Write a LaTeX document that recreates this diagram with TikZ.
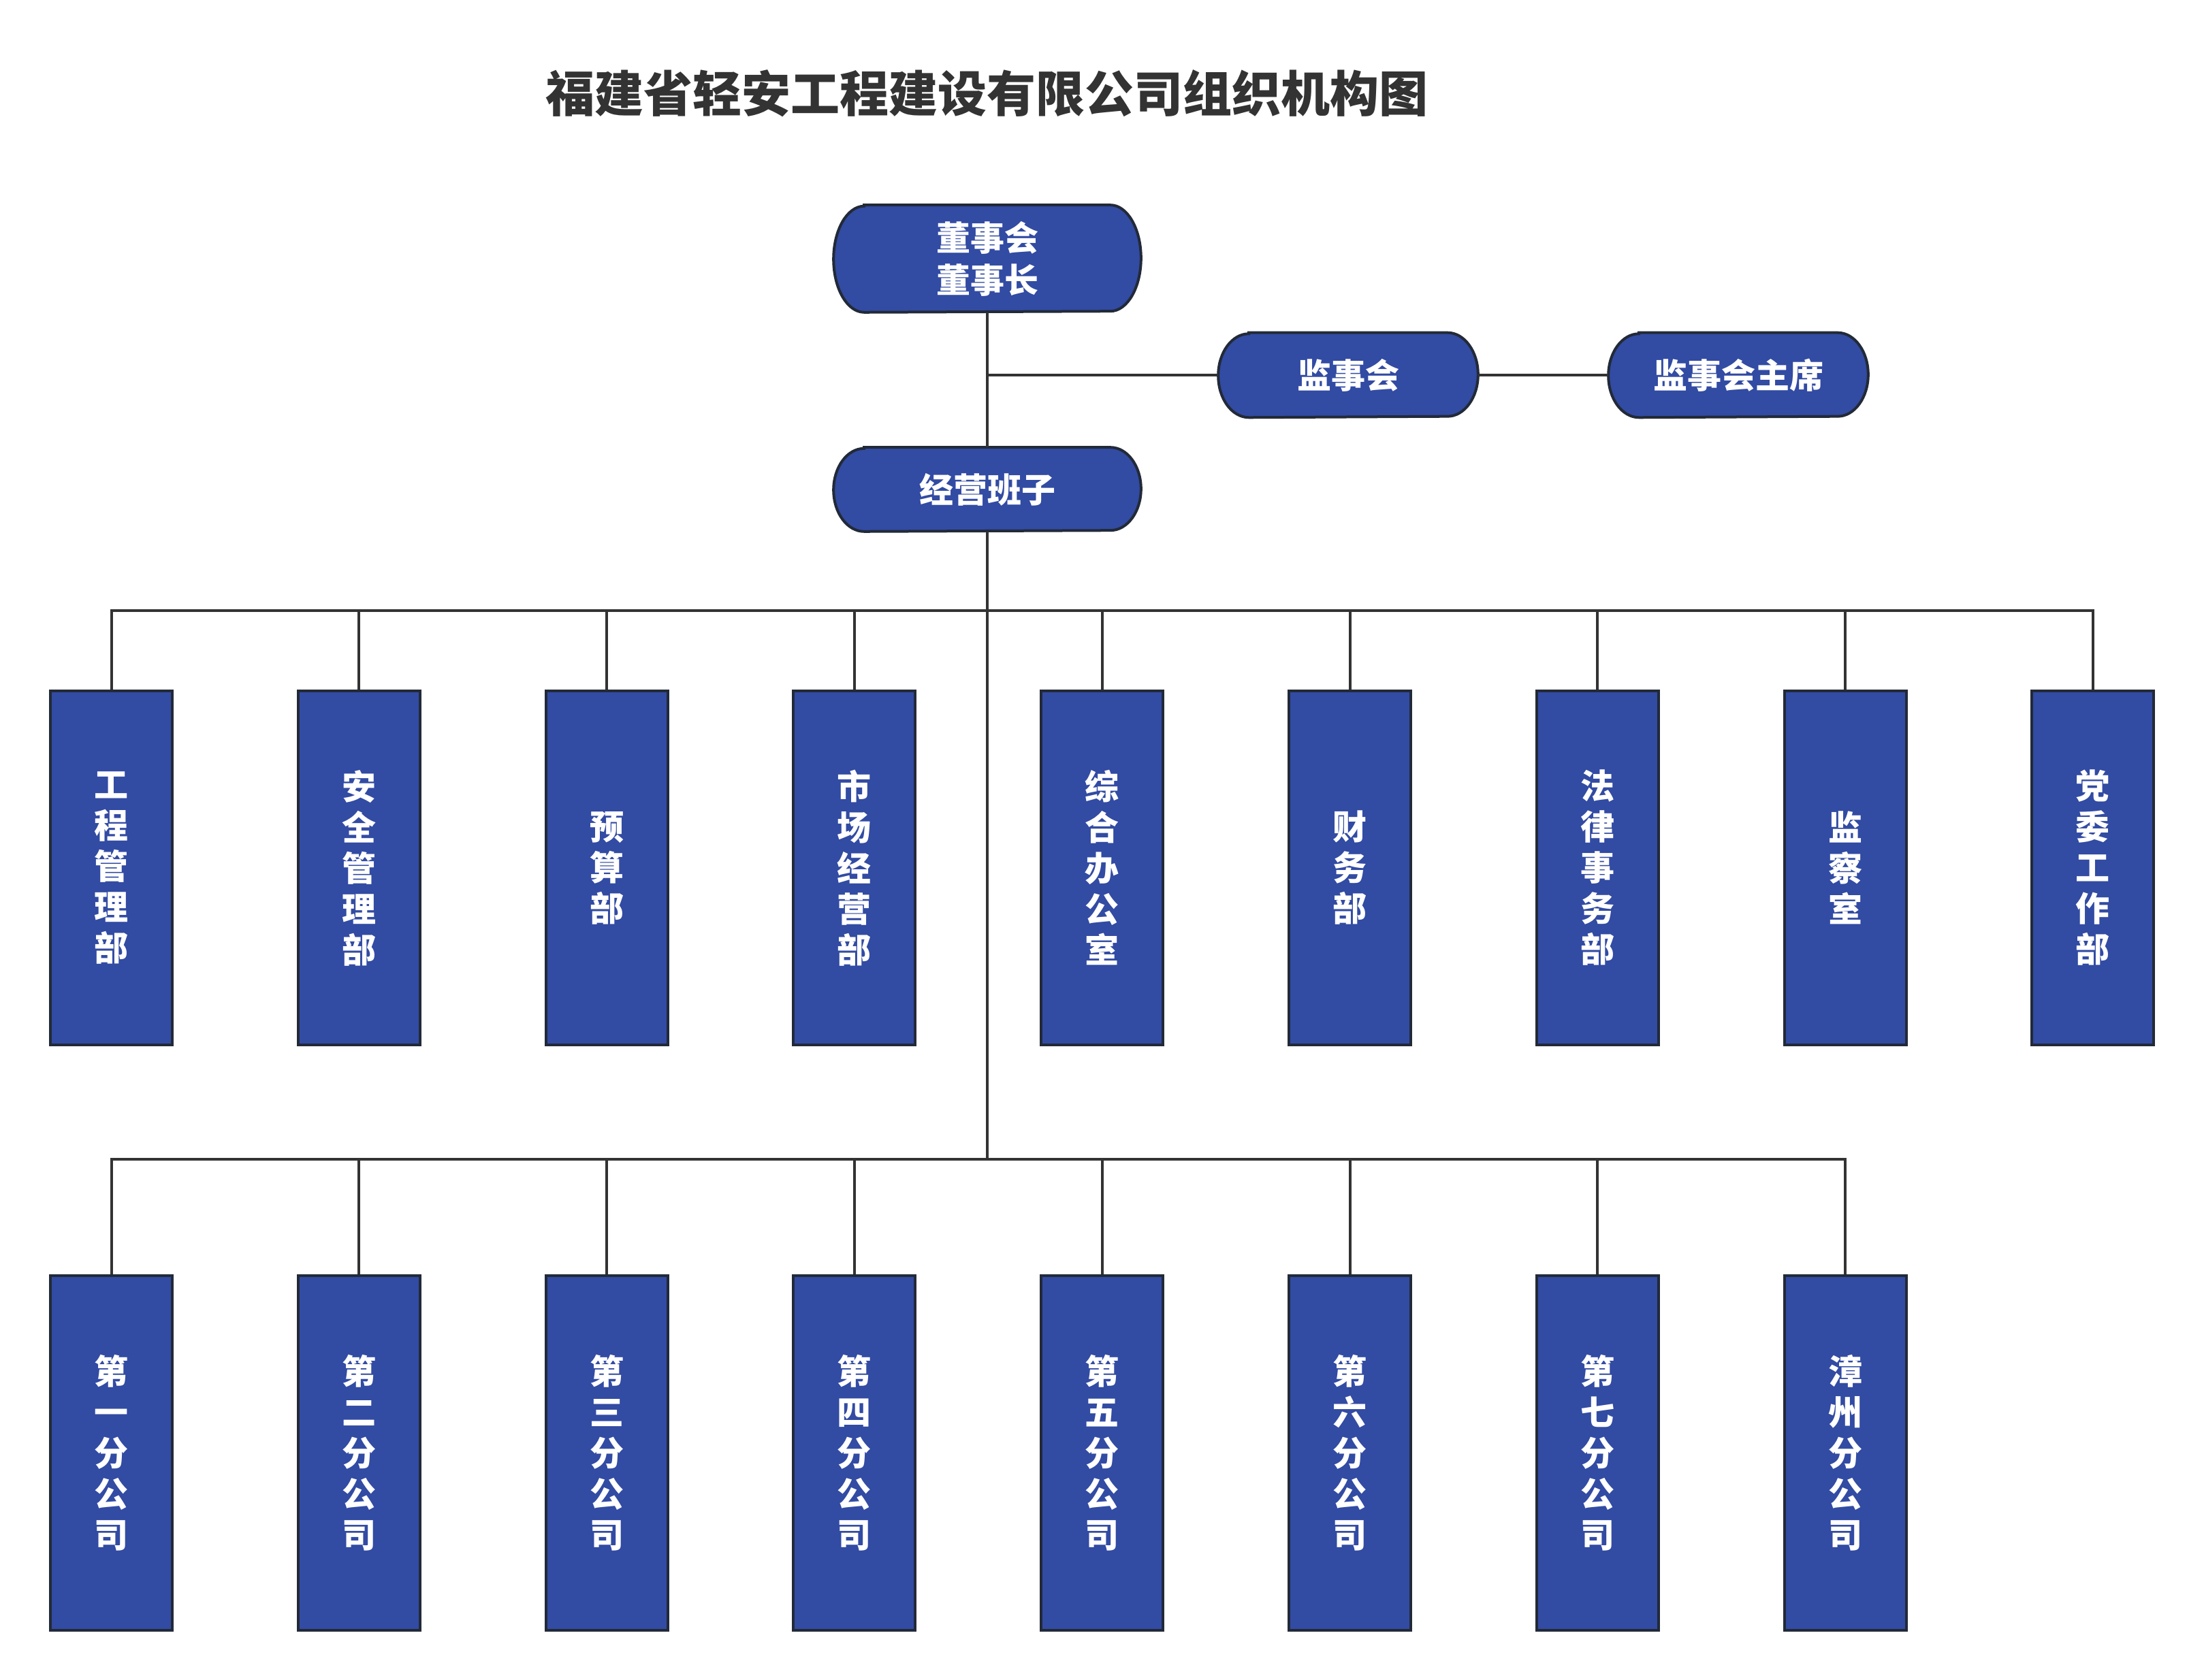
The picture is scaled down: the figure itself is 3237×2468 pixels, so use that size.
\documentclass[tikz,border=0pt]{standalone}
\usepackage{fontspec}
\setmainfont{Noto Sans CJK SC}
\usetikzlibrary{calc,backgrounds}
\definecolor{boxblue}{HTML}{324BA3}
\definecolor{boxline}{HTML}{222A38}
\definecolor{connc}{HTML}{333333}
\tikzset{
  connector/.style={draw=connc, line width=1pt},
  vbox/.style={rectangle, fill=boxblue, draw=boxline, line width=1pt,
    minimum width=44.75pt, minimum height=130pt, inner sep=0pt,
    text=white, font=\fontsize{12.5}{15}\bfseries\selectfont, align=center},
  pilltext/.style={rectangle, inner sep=0pt, text=white,
    font=\fontsize{12.5}{15.5}\bfseries\selectfont, align=center},
  pillfill/.style={fill=boxblue, draw=boxline, line width=1pt},
  titletext/.style={text=connc, font=\fontsize{18}{20}\bfseries\selectfont}
}
\newcommand{\pillshape}[2]{%
  \path[pillfill] ([xshift=11.25pt]#1.north west) -- ([xshift=-11.25pt]#1.north east)
    arc[start angle=90,end angle=-90,x radius=11.25pt,y radius=#2]
    -- ([xshift=11.25pt]#1.south west)
    arc[start angle=270,end angle=90,x radius=11.25pt,y radius=#2] -- cycle;}
\begin{document}
\begin{tikzpicture}[x=0.25pt,y=-0.25pt]
\useasboundingbox (0,0) rectangle (3237,2468);
\node[titletext] (title) at (1449,137) {福建省轻安工程建设有限公司组织机构图};

\node[pilltext, minimum width=112.5pt, minimum height=39pt] (board) at (1450,380) {董事会\\董事长};
\node[pilltext, minimum width=112.5pt, minimum height=30.5pt] (mgmt) at (1450,719) {经营班子};
\node[pilltext, minimum width=95pt, minimum height=30.75pt] (sup) at (1980,551) {监事会};
\node[pilltext, minimum width=95pt, minimum height=30.75pt] (supc) at (2553,551) {监事会主席};
\begin{scope}[on background layer]
  \pillshape{board}{19.5pt}
  \pillshape{mgmt}{15.25pt}
  \pillshape{sup}{15.375pt}
  \pillshape{supc}{15.375pt}
\end{scope}

\foreach \i/\t in {1/{工\\程\\管\\理\\部}, 2/{安\\全\\管\\理\\部}, 3/{预\\算\\部},
  4/{市\\场\\经\\营\\部}, 5/{综\\合\\办\\公\\室}, 6/{财\\务\\部},
  7/{法\\律\\事\\务\\部}, 8/{监\\察\\室}, 9/{党\\委\\工\\作\\部}}
  \node[vbox] (d\i) at ({163.5+363.8*(\i-1)},1275) {\t};

\foreach \i/\t in {1/{第\\一\\分\\公\\司}, 2/{第\\二\\分\\公\\司}, 3/{第\\三\\分\\公\\司},
  4/{第\\四\\分\\公\\司}, 5/{第\\五\\分\\公\\司}, 6/{第\\六\\分\\公\\司},
  7/{第\\七\\分\\公\\司}, 8/{漳\\州\\分\\公\\司}}
  \node[vbox] (b\i) at ({163.5+363.8*(\i-1)},2134.5) {\t};

\coordinate (bt) at (1450,897);
\coordinate (bb) at (1450,1703);

\draw[connector] (board) -- (mgmt);
\draw[connector] (board.south |- sup.west) -- (sup.west);
\draw[connector] (sup) -- (supc);
\draw[connector] (mgmt) -- (bb);
\foreach \i in {1,...,9} \draw[connector] (bt) -| (d\i.north);
\foreach \i in {1,...,8} \draw[connector] (bb) -| (b\i.north);
\end{tikzpicture}
\end{document}
